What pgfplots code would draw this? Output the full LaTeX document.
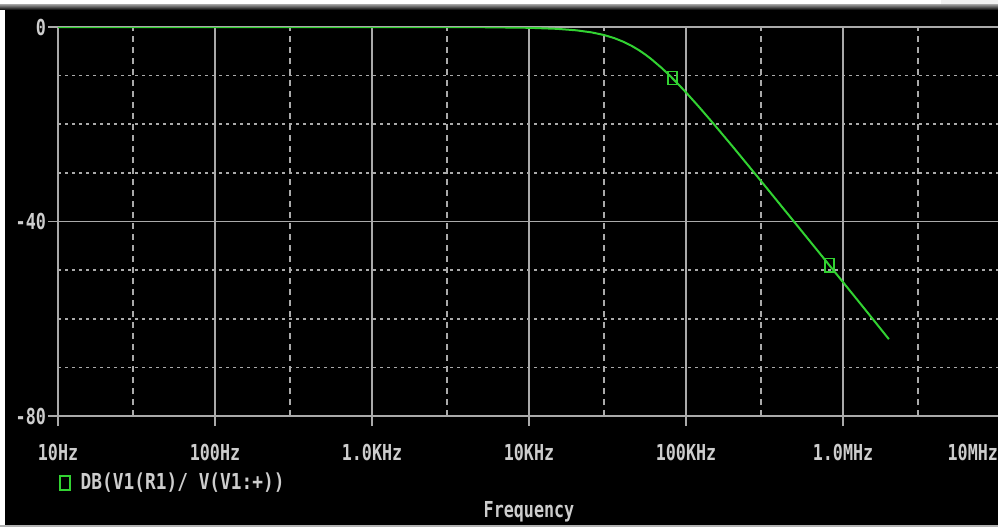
\documentclass[border=0pt]{standalone}
\usepackage{pgfplots}
\pgfplotsset{compat=1.18}
\usepackage{fontspec}
\usepackage{graphicx}
\newfontfamily\mono{DejaVu Sans Mono}
\definecolor{gridc}{RGB}{170,170,170}
\definecolor{txt}{RGB}{205,205,205}
\definecolor{trace}{RGB}{50,210,50}
% narrow, tall pixel-ish labels
\newcommand{\lbl}[1]{\scalebox{0.76}[1]{\mono\bfseries\fontsize{11}{13}\selectfont #1}}
\newcommand{\lgd}[1]{\scalebox{0.81}[1]{\mono\bfseries\fontsize{11}{13}\selectfont #1}}
\begin{document}
\begin{tikzpicture}
  \useasboundingbox (0,0) rectangle (499pt,263.5pt);
  \clip (0,0) rectangle (499pt,263.5pt);
  \fill[black] (0,0) rectangle (499pt,263.5pt);
  % window chrome
  \fill[white] (0,261.5pt) rectangle (499pt,263.5pt);
  \fill[white!94!black] (470.5pt,261.5pt) rectangle (499pt,263.5pt);
  \shade[top color=gray!70, bottom color=black] (0,258.5pt) rectangle (499pt,261.5pt);
  \fill[white] (0,0) rectangle (2.5pt,258.5pt);
  \fill[gray!60] (0,0) rectangle (499pt,1pt);
  \begin{axis}[
    at={(29pt,55.5pt)}, anchor=south west,
    scale only axis, width=471pt, height=194.5pt,
    xmode=log, xmin=10, xmax=1e7, ymin=-80, ymax=0,
    xtick={10,100,1000,10000,100000,1000000,10000000},
    xticklabels={\lbl{10Hz},\lbl{100Hz},\lbl{1.0KHz},\lbl{10KHz},\lbl{100KHz},\lbl{1.0MHz},\llap{\lbl{10MHz}\hspace{1pt}}},
    minor xtick={30,300,3000,30000,300000,3000000},
    ytick={-80,-40,0},
    yticklabels={\lbl{-80},\lbl{-40},\lbl{0}},
    minor ytick={-70,-60,-50,-30,-20,-10},
    grid=both,
    major grid style={gridc, line width=0.8pt},
    minor x grid style={gridc, line width=0.8pt, dash pattern=on 3pt off 2.5pt},
    minor y grid style={gridc, line width=0.8pt, dash pattern=on 1.5pt off 2pt},
    axis line style={gridc, line width=0.8pt},
    tick align=outside, tick pos=left,
    major tick length=5pt, minor tick length=0pt,
    tick style={gridc, line width=0.8pt},
    tick label style={text=txt},
    xticklabel style={anchor=base, yshift=-17pt},
    yticklabel style={anchor=east, xshift=2.5pt},
    xlabel={\lbl{Frequency}},
    xlabel style={at={(axis description cs:0.5,-0.247)}, anchor=center, text=txt},
    legend style={at={(axis description cs:0.001,-0.172)}, anchor=west,
      draw=none, fill=none, text=txt, inner sep=0pt},
    legend image code/.code={\draw[trace, line width=0.7pt] (0pt,-3.5pt) rectangle (5pt,3.5pt);},
  ]
    \addplot[trace, line width=1pt] coordinates {
      (10,0) (1000,0) (3000,-0.01) (5000,-0.04) (10000,-0.16) (15000,-0.37)
      (20000,-0.68) (25000,-1.10) (30000,-1.64) (35000,-2.29) (40000,-3.04)
      (45000,-3.86) (50000,-4.74) (55000,-5.65) (60000,-6.58) (70000,-8.42)
      (80000,-10.20) (90000,-11.88) (100000,-13.45) (120000,-16.30)
      (150000,-19.92) (200000,-24.73) (300000,-31.65) (500000,-40.46)
      (700000,-46.28) (1000000,-52.47) (1500000,-59.51) (1960000,-64.2)
    };
    \addlegendentry{\hspace*{3pt}\lgd{DB(V1(R1)/ V(V1:+))}}
    \addplot[only marks, mark=square, mark size=2.25pt,
      mark options={trace, line width=0.75pt, yscale=1.45}, forget plot]
      coordinates {(81800,-10.5) (820000,-49.0)};
  \end{axis}
\end{tikzpicture}
\end{document}
